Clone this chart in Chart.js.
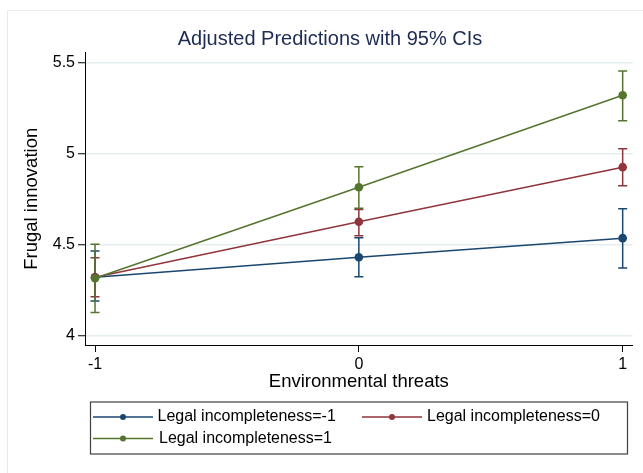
<!DOCTYPE html>
<html>
<head>
<meta charset="utf-8">
<script src="https://cdn.jsdelivr.net/npm/chart.js@4.4.1/dist/chart.umd.min.js"></script>
<style>
  html, body { margin: 0; padding: 0; background: #ffffff; }
  canvas { display: block; }
</style>
</head>
<body>
<canvas id="chart" width="643" height="473"></canvas>
<script>
// Margins of Frugal innovation over Environmental threats, by Legal incompleteness
const xValues = [-1, 0, 1];
const xTickLabels = ['-1', '0', '1'];
const yTickValues = [4, 4.5, 5, 5.5];
const yTickLabels = ['4', '4.5', '5', '5.5'];

const seriesLabels = [
  'Legal incompleteness=-1',
  'Legal incompleteness=0',
  'Legal incompleteness=1'
];

// Predicted margins
const marginNeg1 = [4.32, 4.43, 4.535];
const marginZero = [4.32, 4.625, 4.925];
const marginPos1 = [4.315, 4.815, 5.32];

// 95% confidence limits
const lowerNeg1 = [4.19, 4.323, 4.371];
const upperNeg1 = [4.464, 4.537, 4.697];
const lowerZero = [4.213, 4.548, 4.823];
const upperZero = [4.427, 4.693, 5.026];
const lowerPos1 = [4.127, 4.699, 5.18];
const upperPos1 = [4.501, 4.927, 5.453];

const titleText = 'Adjusted Predictions with 95% CIs';
const xTitle = 'Environmental threats';
const yTitle = 'Frugal innovation';

const colors = ['#1a476f', '#90353b', '#55752f'];
const FONT = '"Liberation Sans", Arial, sans-serif';

const margins = [marginNeg1, marginZero, marginPos1];
const lowers = [lowerNeg1, lowerZero, lowerPos1];
const uppers = [upperNeg1, upperZero, upperPos1];

const datasets = margins.map((vals, i) => ({
  label: seriesLabels[i],
  data: xValues.map((x, j) => ({ x: x, y: vals[j] })),
  lower: lowers[i],
  upper: uppers[i],
  borderColor: colors[i],
  backgroundColor: colors[i],
  pointBackgroundColor: colors[i],
  pointBorderColor: colors[i],
  pointBorderWidth: 0,
  pointRadius: 4.3,
  borderWidth: 1.5,
  tension: 0,
  order: 2 - i
}));

// Capped range bars for the confidence intervals, drawn beneath the lines
const ciBars = {
  id: 'ciBars',
  beforeDatasetsDraw(chart) {
    const { ctx, scales: { x, y } } = chart;
    ctx.save();
    chart.data.datasets.forEach((ds) => {
      ctx.strokeStyle = ds.borderColor;
      ctx.lineWidth = 1.5;
      ds.data.forEach((p, j) => {
        const px = x.getPixelForValue(p.x);
        const lo = y.getPixelForValue(ds.lower[j]);
        const hi = y.getPixelForValue(ds.upper[j]);
        const cap = 4.5;
        ctx.beginPath();
        ctx.moveTo(px, lo); ctx.lineTo(px, hi);
        ctx.moveTo(px - cap, lo); ctx.lineTo(px + cap, lo);
        ctx.moveTo(px - cap, hi); ctx.lineTo(px + cap, hi);
        ctx.stroke();
      });
    });
    ctx.restore();
  }
};

// Frame, main title and the boxed two-column legend
const decorations = {
  id: 'decorations',
  beforeDraw(chart) {
    const { ctx, width, height } = chart;
    ctx.save();
    ctx.fillStyle = '#ffffff';
    ctx.fillRect(0, 0, width, height);
    ctx.strokeStyle = '#e4ecee';
    ctx.lineWidth = 1;
    ctx.beginPath();
    ctx.moveTo(7.5, height); ctx.lineTo(7.5, 10.5); ctx.lineTo(width, 10.5);
    ctx.stroke();
    ctx.restore();
  },
  afterDraw(chart) {
    const { ctx } = chart;
    ctx.save();
    ctx.fillStyle = '#1e2b52';
    ctx.font = '20px ' + FONT;
    ctx.textAlign = 'center';
    ctx.textBaseline = 'middle';
    ctx.fillText(titleText, 330, 39);

    // legend box
    ctx.strokeStyle = '#404040';
    ctx.lineWidth = 1.2;
    ctx.strokeRect(90.5, 402, 537, 52);

    const items = [
      { x0: 93, yc: 417, tx: 157.5 },
      { x0: 362, yc: 417, tx: 427 },
      { x0: 93, yc: 438.5, tx: 159 }
    ];
    ctx.font = '16px ' + FONT;
    ctx.textAlign = 'left';
    ctx.textBaseline = 'middle';
    chart.data.datasets.forEach((ds, i) => {
      const it = items[i];
      ctx.strokeStyle = ds.borderColor;
      ctx.lineWidth = 1.5;
      ctx.beginPath();
      ctx.moveTo(it.x0, it.yc); ctx.lineTo(it.x0 + 60, it.yc);
      ctx.stroke();
      ctx.fillStyle = ds.borderColor;
      ctx.beginPath();
      ctx.arc(it.x0 + 30, it.yc, 3, 0, Math.PI * 2);
      ctx.fill();
      ctx.fillStyle = '#000000';
      ctx.fillText(ds.label, it.tx, it.yc);
    });
    ctx.restore();
  }
};

new Chart(document.getElementById('chart'), {
  type: 'line',
  data: { datasets: datasets },
  options: {
    responsive: false,
    animation: false,
    devicePixelRatio: 1,
    layout: { padding: { top: 52.5, left: 0, right: 10.3, bottom: 0 } },
    plugins: {
      legend: { display: false },
      title: { display: false },
      tooltip: { enabled: false }
    },
    scales: {
      x: {
        type: 'linear',
        min: -1.038,
        max: 1.038,
        afterBuildTicks(scale) { scale.ticks = xValues.map(v => ({ value: v })); },
        afterFit(scale) { scale.height = 128; },
        ticks: {
          autoSkip: false,
          maxRotation: 0,
          padding: 3,
          color: '#000000',
          font: { family: FONT, size: 16 },
          callback(value) { return xTickLabels[xValues.indexOf(value)]; }
        },
        grid: {
          drawOnChartArea: false,
          drawTicks: true,
          tickLength: 7,
          tickColor: '#000000',
          tickWidth: 1
        },
        border: { display: true, color: '#000000', width: 1 },
        title: {
          display: true,
          text: xTitle,
          color: '#000000',
          font: { family: FONT, size: 18.5 },
          padding: { top: 0, bottom: 80 }
        }
      },
      y: {
        type: 'linear',
        min: 3.948,
        max: 5.555,
        afterBuildTicks(scale) { scale.ticks = yTickValues.map(v => ({ value: v })); },
        afterFit(scale) { scale.width = 85; },
        ticks: {
          autoSkip: false,
          padding: 3,
          color: '#000000',
          font: { family: FONT, size: 16 },
          callback(value) { return yTickLabels[yTickValues.indexOf(value)]; }
        },
        grid: {
          color: '#e4edf0',
          lineWidth: 1.5,
          drawTicks: true,
          tickLength: 7,
          tickColor: '#000000',
          tickWidth: 1
        },
        border: { display: true, color: '#000000', width: 1 },
        title: {
          display: true,
          text: yTitle,
          color: '#000000',
          font: { family: FONT, size: 18.5 },
          padding: { top: 21, bottom: 0 }
        }
      }
    }
  },
  plugins: [ciBars, decorations]
});
</script>
</body>
</html>
